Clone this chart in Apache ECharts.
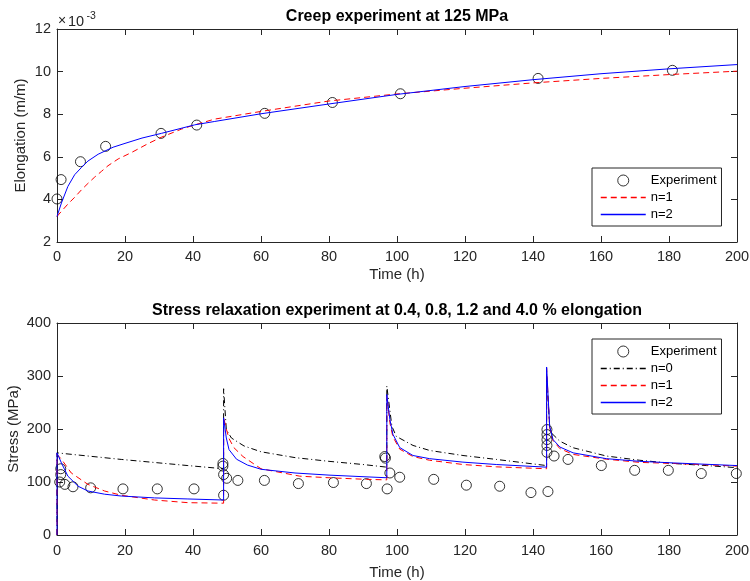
<!DOCTYPE html>
<html>
<head>
<meta charset="utf-8">
<script src="https://cdn.jsdelivr.net/npm/echarts@6/dist/echarts.min.js"></script>
<style>
  html, body { margin: 0; padding: 0; background: #fff; }
  #chart { width: 750px; height: 581px; }
</style>
</head>
<body>
<div id="chart"></div>
<script>
// creep test, elongation in units of 1e-3 m/m
const creepTime = [0, 1.2, 6.9, 14.3, 30.6, 41.1, 61.1, 81, 101, 141.5, 181];
const creepExp = [4.02, 4.93, 5.77, 6.49, 7.10, 7.49, 8.04, 8.55, 8.96, 9.68, 10.06];

const creepN1Time = [0, 1.3, 3.2, 5.2, 7.2, 9.1, 11.1, 13.1, 15, 18, 21.9, 26.8, 30.7, 36.6, 40.5, 46.4, 60, 80, 100, 120, 140, 160, 180, 200];
const creepN1 = [3.2, 3.44, 3.78, 4.1, 4.45, 4.75, 5.05, 5.32, 5.58, 5.9, 6.2, 6.62, 6.92, 7.3, 7.5, 7.77, 8.13, 8.62, 8.95, 9.22, 9.47, 9.68, 9.86, 10.02];

const creepN2Time = [0, 1.3, 3.2, 5.2, 7.2, 9.1, 12.1, 16.5, 20, 25, 30.7, 40.5, 46.4, 60, 80, 100, 120, 140, 160, 180, 200];
const creepN2 = [3.2, 3.83, 4.61, 5.16, 5.5, 5.8, 6.12, 6.45, 6.63, 6.88, 7.1, 7.5, 7.66, 8.02, 8.48, 8.93, 9.3, 9.62, 9.9, 10.13, 10.33];

// stress relaxation test (MPa)
const relaxTime = [0.8, 1.1, 1.1, 2.3, 4.7, 9.9, 19.4, 29.5, 40.3, 48.8, 48.8, 49, 49, 49.9, 53.2, 61, 71, 81.3, 91,
  96.4, 96.6, 97.1, 97.9, 100.8, 110.8, 120.4, 130.2, 139.4, 144.4,
  144.1, 144.1, 144.1, 144.1, 144.1, 146.2, 150.3, 160.1, 169.9, 179.8, 189.5, 199.8];
const relaxExp = [100, 125, 114, 95.5, 91, 89, 87, 87, 87, 135, 130, 114, 75, 107, 103, 103, 97, 99, 97,
  148, 145, 87, 117, 109, 105, 94, 92, 80, 82,
  199, 189.5, 180, 169, 156, 149, 142.6, 131, 122, 122, 116, 116];

const relaxN0Time = [0, 0, 18.9, 38.5, 49, 49, 49.8, 51.3, 55, 60, 70, 80, 90, 97,
  97, 98.5, 99.8, 104.7, 109.6, 119.4, 129.2, 144,
  144, 145, 147.9, 151.8, 161.6, 171.4, 181.2, 191, 200];
const relaxN0 = [0, 155, 142.6, 131, 125, 276, 199, 183, 168, 157, 146, 139, 133, 128,
  281, 205, 186, 169, 159.5, 150, 142.6, 131,
  300, 195, 177, 164.6, 149, 141, 135, 131, 127];

const relaxN1Time = [0, 0, 1.3, 4.2, 9.1, 14, 18.9, 28.7, 38.5, 49, 49, 49.8, 50.6, 52, 54.7, 60, 71.4, 80, 91, 97,
  97, 97.9, 98.8, 100.8, 104.7, 109.6, 119.4, 129.2, 144,
  144, 144.9, 145.9, 147.9, 151.8, 161.6, 171.4, 181.2, 200];
const relaxN1 = [0, 152, 143, 117, 95.5, 83, 75, 66, 61, 60, 222, 200, 182, 165, 148, 125, 111, 108, 105, 104,
  263, 212, 185, 162, 148, 141, 133, 128.6, 125,
  315, 203, 178, 163, 152, 143, 137, 135, 130];

const relaxN2Time = [0, 0, 1.3, 3.2, 6.2, 9.1, 14, 18.9, 28.7, 38.5, 49, 49, 49.8, 50.6, 52.8, 56, 60, 70, 80, 90, 97,
  97, 97.9, 98.8, 100.8, 104.7, 109.6, 119.4, 129.2, 144,
  144, 144.9, 145.9, 147.9, 151.8, 161.6, 171.4, 181.2, 200];
const relaxN2 = [0, 155, 136, 111, 92, 83, 77, 73.5, 70, 68, 66, 221, 183, 161, 143, 132, 124, 117, 113, 110, 108,
  265, 218, 190, 165, 150, 144, 137.5, 133, 128,
  317, 205, 180, 166, 155, 144, 139, 136, 131];

const axisColor = '#262626';
const font = '"Liberation Sans", Arial, Helvetica, sans-serif';

const lineStyles = {
  'n=0': { color: '#000000', type: [6, 3, 1, 3] },
  'n=1': { color: '#ff0000', type: [6, 4] },
  'n=2': { color: '#0000ff', type: 'solid' }
};

const pairs = (xs, ys) => xs.map((x, i) => [x, ys[i]]);

function xAxes(gridIndex, labelMargin, nameGap) {
  const base = {
    type: 'value', gridIndex: gridIndex, min: 0, max: 200, interval: 20,
    axisLine: { show: true, onZero: false, lineStyle: { color: axisColor, width: 1 } },
    axisTick: { show: true, inside: true, length: 6, lineStyle: { color: axisColor } },
    splitLine: { show: false }
  };
  return [
    Object.assign({}, base, {
      position: 'bottom',
      axisLabel: { margin: labelMargin, color: axisColor, fontSize: 14.5, fontFamily: font },
      name: 'Time (h)', nameLocation: 'middle', nameGap: nameGap, nameMoveOverlap: false,
      nameTextStyle: { color: axisColor, fontSize: 15, fontFamily: font }
    }),
    Object.assign({}, base, { position: 'top', axisLabel: { show: false } })
  ];
}

function yAxes(gridIndex, min, max, interval, name, nameGap) {
  const base = {
    type: 'value', gridIndex: gridIndex, min: min, max: max, interval: interval,
    axisLine: { show: true, onZero: false, lineStyle: { color: axisColor, width: 1 } },
    axisTick: { show: true, inside: true, length: 6, lineStyle: { color: axisColor } },
    splitLine: { show: false }
  };
  return [
    Object.assign({}, base, {
      position: 'left',
      axisLabel: { margin: 6, color: axisColor, fontSize: 14.5, fontFamily: font },
      name: name, nameLocation: 'middle', nameGap: nameGap, nameMoveOverlap: false,
      nameTextStyle: { color: axisColor, fontSize: 15, fontFamily: font }
    }),
    Object.assign({}, base, { position: 'right', axisLabel: { show: false } })
  ];
}

// legend entries: hollow circle for the data, bare line for the models
function legendEntry(name) {
  if (name === 'Experiment') {
    return { name: name, itemStyle: { color: 'rgba(0,0,0,0)', borderColor: '#000', borderWidth: 1 } };
  }
  const ls = lineStyles[name];
  return {
    name: name,
    itemStyle: { color: 'rgba(0,0,0,0)', borderWidth: 0 },
    lineStyle: { color: ls.color, type: ls.type, width: 1.5 }
  };
}

function legend(top, names) {
  return {
    left: 592, top: top, orient: 'vertical',
    data: names.map(legendEntry),
    itemWidth: 45, itemHeight: 11, itemGap: 4,
    padding: [6, 5, 5, 8],
    borderColor: axisColor, borderWidth: 1, backgroundColor: '#fff',
    textStyle: { color: '#000', fontSize: 13, fontFamily: font },
    selectedMode: false
  };
}

const expStyle = { color: 'rgba(0,0,0,0)', borderColor: '#000', borderWidth: 1 };

function lineSeries(name, xi, yi, data) {
  const ls = lineStyles[name];
  return {
    name: name, type: 'line', xAxisIndex: xi, yAxisIndex: yi, data: data,
    symbol: 'none', smooth: false,
    lineStyle: { color: ls.color, width: 1, type: ls.type },
    itemStyle: { color: ls.color }
  };
}

const chart = echarts.init(document.getElementById('chart'), null, { renderer: 'canvas' });

chart.setOption({
  animation: false,
  backgroundColor: '#fff',
  grid: [
    { left: 57, right: 13, top: 29, height: 213, outerBoundsMode: 'none' },
    { left: 57, right: 13, top: 323, height: 212, outerBoundsMode: 'none' }
  ],
  xAxis: [...xAxes(0, 7, 25), ...xAxes(1, 8, 30)],
  yAxis: [...yAxes(0, 2, 12, 2, 'Elongation (m/m)', 28.5), ...yAxes(1, 0, 400, 100, 'Stress (MPa)', 36)],
  legend: [
    legend(168, ['Experiment', 'n=1', 'n=2']),
    legend(339, ['Experiment', 'n=0', 'n=1', 'n=2'])
  ],
  graphic: [
    { type: 'text', x: 397, y: 17, style: { text: 'Creep experiment at 125 MPa', font: 'bold 16px ' + font, fill: '#000', align: 'center', verticalAlign: 'middle', textAlign: 'center', textVerticalAlign: 'middle' } },
    { type: 'text', x: 397, y: 311, style: { text: 'Stress relaxation experiment at 0.4, 0.8, 1.2 and 4.0 % elongation', font: 'bold 16px ' + font, fill: '#000', align: 'center', verticalAlign: 'middle', textAlign: 'center', textVerticalAlign: 'middle' } },
    { type: 'text', x: 58, y: 21.5, style: { text: '\u00d7', font: '14px ' + font, fill: axisColor, verticalAlign: 'middle', textVerticalAlign: 'middle' } },
    { type: 'text', x: 68, y: 21.5, style: { text: '10', font: '14.5px ' + font, fill: axisColor, verticalAlign: 'middle', textVerticalAlign: 'middle' } },
    { type: 'text', x: 86.5, y: 16, style: { text: '-3', font: '10.5px ' + font, fill: axisColor, verticalAlign: 'middle', textVerticalAlign: 'middle' } }
  ],
  series: [
    {
      name: 'Experiment', type: 'scatter', xAxisIndex: 0, yAxisIndex: 0,
      data: pairs(creepTime, creepExp), symbol: 'circle', symbolSize: 10, itemStyle: expStyle
    },
    lineSeries('n=1', 0, 0, pairs(creepN1Time, creepN1)),
    lineSeries('n=2', 0, 0, pairs(creepN2Time, creepN2)),
    {
      name: 'Experiment', type: 'scatter', xAxisIndex: 2, yAxisIndex: 2,
      data: pairs(relaxTime, relaxExp), symbol: 'circle', symbolSize: 10, itemStyle: expStyle
    },
    lineSeries('n=0', 2, 2, pairs(relaxN0Time, relaxN0)),
    lineSeries('n=1', 2, 2, pairs(relaxN1Time, relaxN1)),
    lineSeries('n=2', 2, 2, pairs(relaxN2Time, relaxN2))
  ]
});
</script>
</body>
</html>
